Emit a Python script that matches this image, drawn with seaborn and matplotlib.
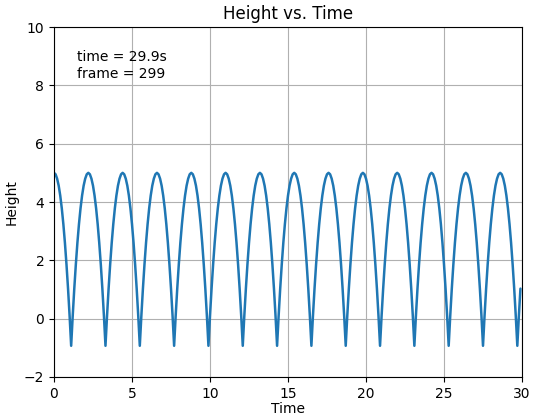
import numpy as np
import pandas as pd
import seaborn as sns
import matplotlib
matplotlib.use("Agg")
import matplotlib.pyplot as plt

one_bounce = [5.00, 4.95, 4.80, 4.56, 4.22, 3.78, 3.24, 2.60, 1.86, 1.03, 0.10,
              -0.93, 0.10, 1.03, 1.86, 2.60, 3.24, 3.78, 4.22, 4.56, 4.80, 4.95]
n_frames = 300
dt = 0.1

height = (one_bounce * 14)[:n_frames]
time = [round(i * dt, 1) for i in range(n_frames)]
df = pd.DataFrame({'Time': time, 'Height': height})

sns.set_style('ticks')
plt.rcParams['font.family'] = ['DejaVu Sans']
plt.rcParams['text.color'] = 'black'
plt.rcParams['axes.labelcolor'] = 'black'
plt.rcParams['xtick.color'] = 'black'
plt.rcParams['ytick.color'] = 'black'
plt.rcParams['axes.edgecolor'] = 'black'

fig, ax = plt.subplots(figsize=(5.33, 4.16), dpi=100)
sns.lineplot(data=df, x='Time', y='Height', ax=ax, color='#1f77b4', linewidth=1.8)
ax.set_xlim(0, 30)
ax.set_ylim(-2, 10)
ax.grid(True, color='#b0b0b0', linewidth=0.8)
ax.set_title('Height vs. Time', fontsize=12)
ax.set_xlabel('Time', labelpad=1)
ax.text(0.05, 0.935, f'time = {time[-1]}s\nframe = {n_frames - 1}',
        transform=ax.transAxes, va='top', fontsize=10, linespacing=1.3)
fig.subplots_adjust(left=54 / 533, right=522 / 533, top=1 - 27 / 416, bottom=1 - 377 / 416)
plt.savefig('out.png', dpi=100)
